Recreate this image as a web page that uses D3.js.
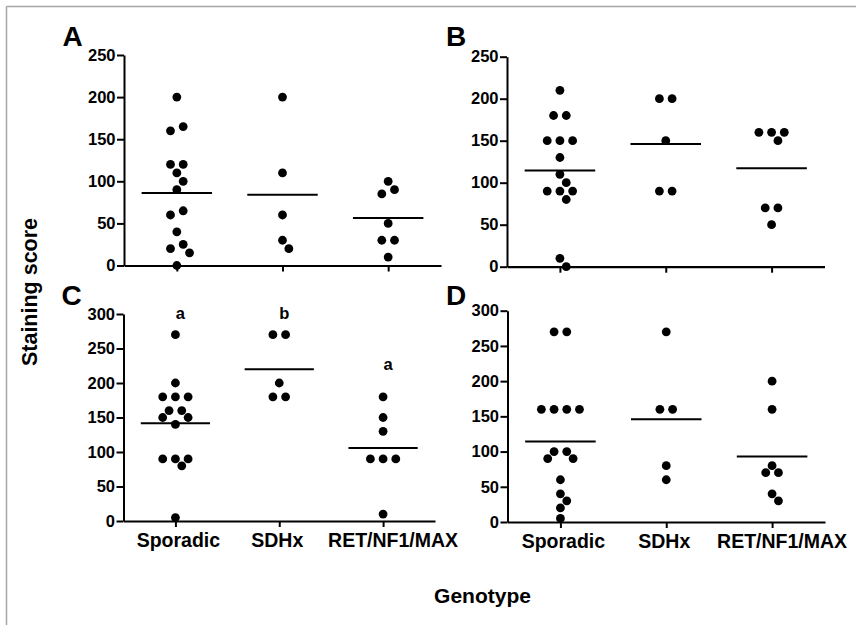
<!DOCTYPE html>
<html><head><meta charset="utf-8">
<script src="https://cdn.jsdelivr.net/npm/d3@7"></script>
<style>
html,body{margin:0;padding:0;background:#fff;}
svg{display:block;}
text{font-family:"Liberation Sans",Arial,Helvetica,sans-serif;font-weight:bold;fill:#000;}
</style>
</head><body>
<svg id="chart" width="856" height="625"></svg>
<script>
// ---------- data ----------
const categories = ["Sporadic", "SDHx", "RET/NF1/MAX"];

const aSporadic = [200, 165, 160, 120, 120, 110, 100, 90, 65, 60, 40, 25, 20, 15, 0];
const aSDHx     = [200, 110, 60, 30, 20];
const aRET      = [100, 90, 85, 50, 30, 30, 10];

const bSporadic = [210, 180, 180, 150, 150, 150, 130, 110, 100, 90, 90, 90, 80, 10, 0];
const bSDHx     = [200, 200, 150, 90, 90];
const bRET      = [160, 160, 160, 150, 70, 70, 50];

const cSporadic = [270, 200, 180, 180, 180, 160, 160, 150, 150, 140, 90, 90, 90, 80, 5];
const cSDHx     = [270, 270, 200, 180, 180];
const cRET      = [180, 150, 130, 90, 90, 90, 10];

const dSporadic = [270, 270, 160, 160, 160, 160, 100, 100, 90, 90, 60, 40, 30, 20, 5];
const dSDHx     = [270, 160, 160, 80, 60];
const dRET      = [200, 160, 80, 70, 70, 40, 30];

const yTicksAB = [0, 50, 100, 150, 200, 250];
const yTicksCD = [0, 50, 100, 150, 200, 250, 300];

const cLetters = ["a", "b", "a"];
const cLetterValues = [300, 300, 226];

const yTitle = "Staining score";
const xTitle = "Genotype";

// ---------- layout ----------
const panels = [
  {letter: "A", series: [aSporadic, aSDHx, aRET], ticks: yTicksAB, x0: 124, x1: 441, yTop: 55, yBottom: 265.5, labels: false, lx: 62.5, ly: 46},
  {letter: "B", series: [bSporadic, bSDHx, bRET], ticks: yTicksAB, x0: 507, x1: 824.5, yTop: 56.7, yBottom: 266.7, labels: false, lx: 446, ly: 46},
  {letter: "C", series: [cSporadic, cSDHx, cRET], ticks: yTicksCD, x0: 123.5, x1: 435, yTop: 314, yBottom: 521, labels: true, lx: 61.5, ly: 304.5, notes: true},
  {letter: "D", series: [dSporadic, dSDHx, dRET], ticks: yTicksCD, x0: 507.5, x1: 825, yTop: 310.7, yBottom: 522, labels: true, lx: 446, ly: 304.5}
];

const svg = d3.select("#chart");
svg.append("rect").attr("width", 856).attr("height", 625).attr("fill", "#fff");

// frame lines (top and left)
svg.append("line").attr("x1", 6.5).attr("x2", 856).attr("y1", 6.5).attr("y2", 6.5)
  .attr("stroke", "#a6a6a6").attr("stroke-width", 1.5);
svg.append("line").attr("x1", 6.5).attr("x2", 6.5).attr("y1", 6.5).attr("y2", 625)
  .attr("stroke", "#a6a6a6").attr("stroke-width", 1.5);

const HALF = 6.35;   // half horizontal step between dots
const R = 4.4;       // dot radius
const DMIN = 9;      // minimum centre distance

function dodge(values, y) {
  const pts = values.map((v, i) => ({v, i})).sort((a, b) => b.v - a.v);
  const rows = [];
  pts.forEach(p => {
    const last = rows[rows.length - 1];
    if (last && Math.abs(y(p.v) - y(last[0].v)) < 5) last.push(p); else rows.push([p]);
  });
  const placed = [];
  const collides = (cand) => cand.some(c => placed.some(q => {
    const dx = (c.slot - q.slot) * HALF, dy = y(c.v) - y(q.v);
    return dx * dx + dy * dy < DMIN * DMIN - 0.01;
  }));
  rows.forEach(row => {
    row.sort((a, b) => a.v - b.v);
    const n = row.length;
    const tries = [];
    const shifts = [0, 1, -1, 2, -2, 3, -3, 4, -4, 5, -5, 6, -6, 7, -7];
    tries.push([2, 0]);
    if (n > 1) tries.push([4, 0]);
    shifts.slice(1).forEach(s => tries.push([2, s]));
    if (n > 1) shifts.slice(1).forEach(s => tries.push([4, s]));
    for (const [sp, c] of tries) {
      const cand = row.map((p, k) => ({v: p.v, slot: c + (k - (n - 1) / 2) * sp}));
      if (!collides(cand)) { cand.forEach(q => placed.push(q)); return; }
    }
    row.forEach((p, k) => placed.push({v: p.v, slot: (k - (n - 1) / 2) * 2}));
  });
  return placed;
}

panels.forEach(P => {
  const x = d3.scalePoint().domain(categories).range([P.x0, P.x1]).padding(0.5);
  const y = d3.scaleLinear().domain([0, d3.max(P.ticks)]).range([P.yBottom, P.yTop]);
  const g = svg.append("g");

  // y axis
  const ya = g.append("g").attr("transform", `translate(${P.x0},0)`)
    .call(d3.axisLeft(y).tickValues(P.ticks).tickSize(7).tickPadding(1.5).tickSizeOuter(0));
  ya.attr("font-family", null).attr("font-size", null);
  ya.select(".domain").attr("stroke", "#000").attr("stroke-width", 2);
  ya.selectAll(".tick line").attr("stroke", "#000").attr("stroke-width", 2);
  ya.selectAll(".tick text").style("font-size", "16.5px").attr("fill", "#000");

  // x axis
  const xa = g.append("g").attr("transform", `translate(0,${P.yBottom})`)
    .call(d3.axisBottom(x).tickSize(6).tickSizeOuter(0).tickFormat(""));
  xa.attr("font-family", null).attr("font-size", null);
  xa.select(".domain").attr("stroke", "#000").attr("stroke-width", 2.2);
  xa.selectAll(".tick line").attr("stroke", "#000").attr("stroke-width", 2);

  if (P.labels) {
    const labelDx = [3, -2, 10];
    g.selectAll(".cat").data(categories).join("text")
      .attr("x", (d, i) => x(d) + labelDx[i]).attr("y", P.yBottom + 25.5)
      .attr("text-anchor", "middle").style("font-size", "19.5px").text(d => d);
  }

  // dots and means
  P.series.forEach((vals, ci) => {
    const cx = x(categories[ci]);
    const pts = dodge(vals, y);
    g.append("g").selectAll("circle").data(pts).join("circle")
      .attr("cx", d => cx + d.slot * HALF).attr("cy", d => y(d.v))
      .attr("r", R).attr("fill", "#000");
    const m = d3.mean(vals);
    const hw = x.step() / 3;
    g.append("line").attr("x1", cx - hw).attr("x2", cx + hw)
      .attr("y1", y(m)).attr("y2", y(m)).attr("stroke", "#000").attr("stroke-width", 2);
  });

  if (P.notes) {
    g.selectAll(".note").data(cLetters).join("text")
      .attr("x", (d, i) => x(categories[i]) + 5).attr("y", (d, i) => y(cLetterValues[i]) + 5)
      .attr("text-anchor", "middle").style("font-size", "16.5px").text(d => d);
  }

  svg.append("text").attr("x", P.lx).attr("y", P.ly).style("font-size", "28px").text(P.letter);
});

svg.append("text").attr("transform", "translate(37,292) rotate(-90)")
  .attr("text-anchor", "middle").style("font-size", "21.5px").text(yTitle);
svg.append("text").attr("x", 482.5).attr("y", 603)
  .attr("text-anchor", "middle").style("font-size", "21px").text(xTitle);
</script>
</body></html>
